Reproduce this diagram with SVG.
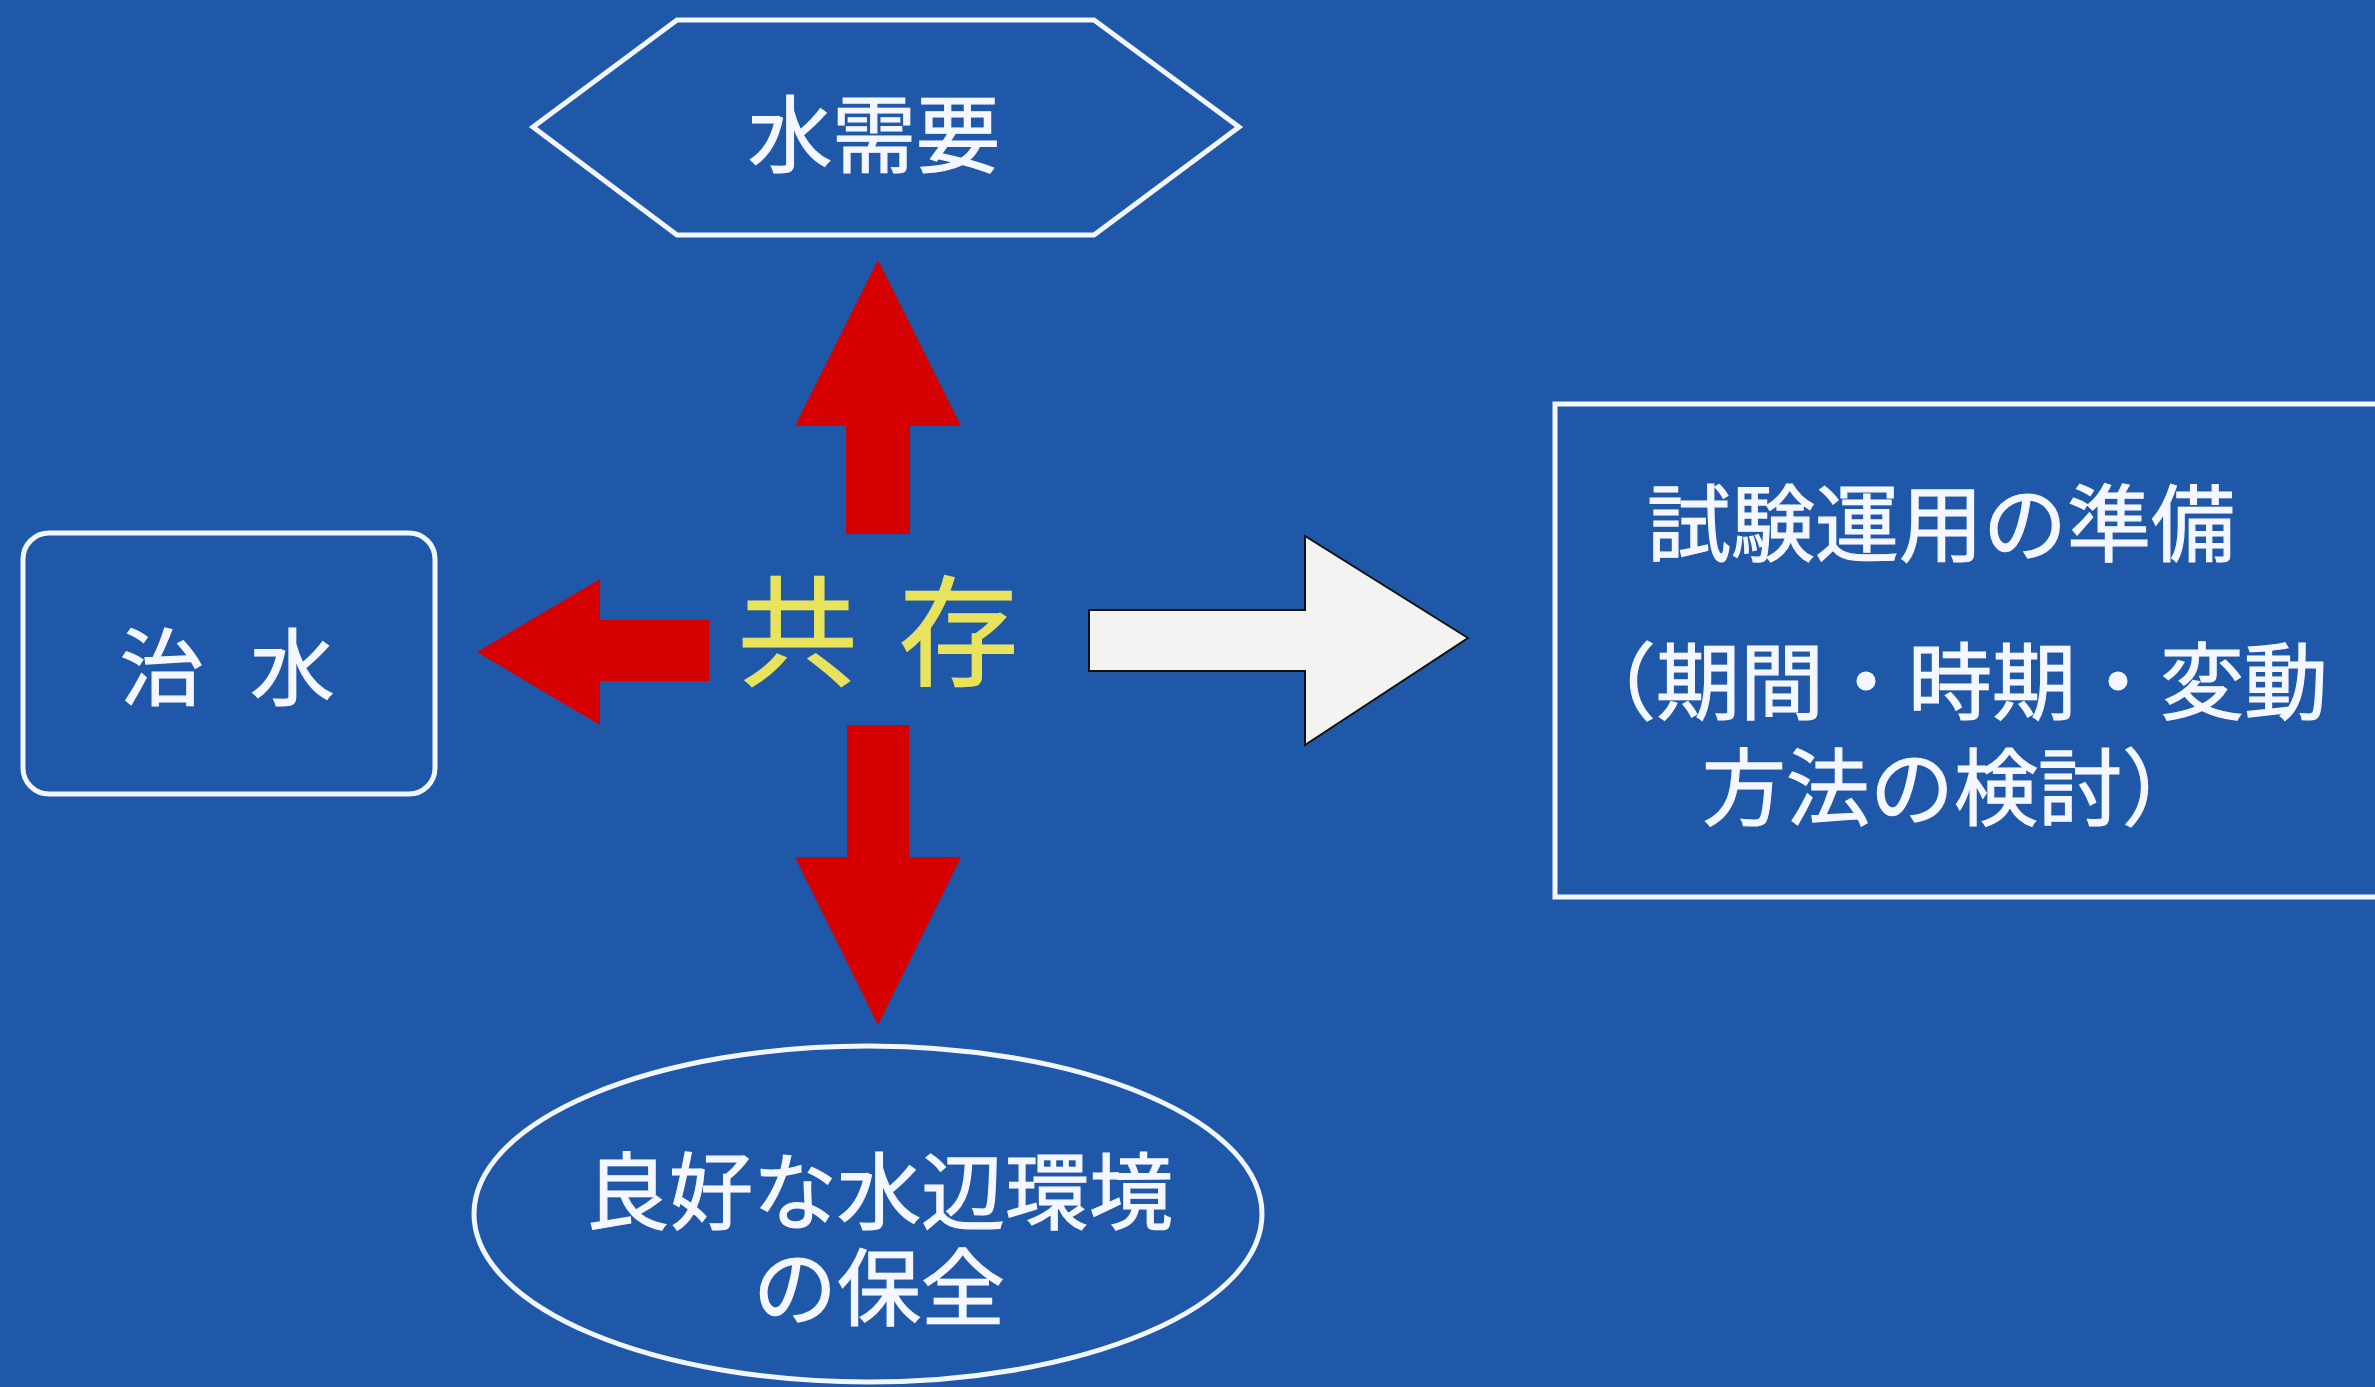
<svg xmlns="http://www.w3.org/2000/svg" width="2375" height="1387" viewBox="0 0 2375 1387">
<style>
.bg{fill:#1f58a9}
.node{fill:none;stroke:#f2f6ff;stroke-width:5}
.lbl{fill:#f4f7ff;stroke:#f4f7ff;stroke-width:1.2;font-family:"Liberation Sans","Noto Sans CJK JP","Noto Sans CJK SC",sans-serif;font-size:84px;dominant-baseline:central}
.mid{text-anchor:middle}
.red{fill:#d60000}
.white{fill:#f3f3f1;stroke:#111;stroke-width:2}
.core{fill:#e8e25c;stroke:#e8e25c;stroke-width:1.2;font-family:"Noto Sans CJK JP","Noto Sans CJK SC",sans-serif;font-size:120px;dominant-baseline:central;text-anchor:middle}
</style>
<rect class="bg" x="0" y="0" width="2375" height="1387"/>
<g id="node-water-demand">
<polygon class="node" points="533,127 677,20 1094,20 1239,127 1094,235 677,235"/>
<text class="lbl mid" x="874" y="137">水需要</text>
</g>
<g id="node-flood-control">
<rect class="node" x="23" y="533" width="412" height="261" rx="26"/>
<text class="lbl mid" x="227" y="670" word-spacing="23">治 水</text>
</g>
<g id="node-environment">
<ellipse class="node" cx="868" cy="1214" rx="394" ry="168"/>
<text class="lbl mid"><tspan x="879" y="1194">良好な水辺環境</tspan><tspan x="879" y="1290">の保全</tspan></text>
</g>
<g id="node-trial">
<rect class="node" x="1555" y="404" width="840" height="493"/>
<text class="lbl" x="1647" y="526">試験運用の準備</text>
<text class="lbl"><tspan x="1572" y="684">（期間・時期・変動</tspan><tspan x="1702" y="790">方法の検討）</tspan></text>
</g>
<g id="node-coexistence">
<text class="core" x="878" y="625" word-spacing="14">共 存</text>
</g>
<g id="connectors">
<polygon class="red" points="878,260 961,426 910,426 910,534 846,534 846,426 795,426"/>
<polygon class="red" points="477,652 600,579 600,620 709,620 709,681 600,681 600,725"/>
<polygon class="red" points="878,1025 961,857 909,857 909,725 847,725 847,857 795,857"/>
<polygon class="white" points="1468,638 1305,536 1305,610 1089,610 1089,671 1305,671 1305,745"/>
</g>
</svg>
